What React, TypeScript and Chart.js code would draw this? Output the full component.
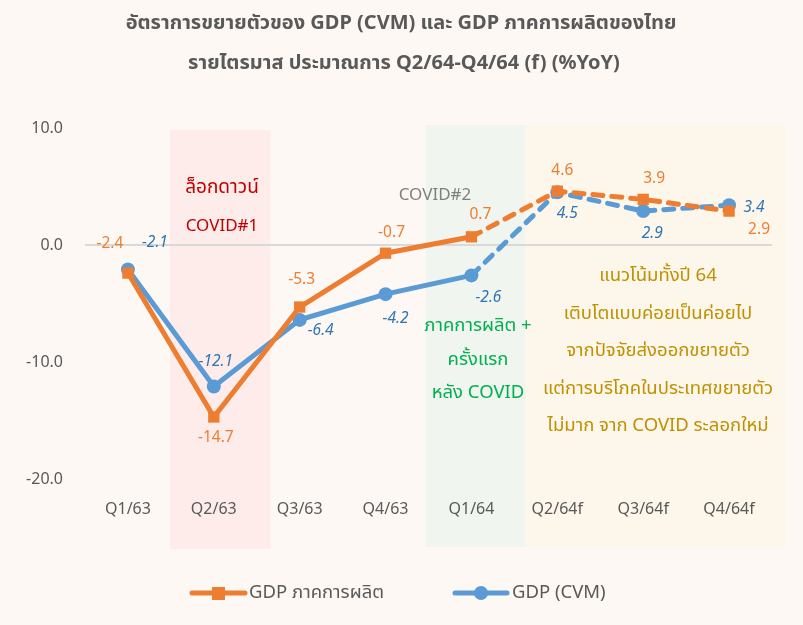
import React, { useEffect, useRef } from "react";
import { Chart, registerables } from "chart.js";

Chart.register(...registerables);

const categories = ["Q1/63", "Q2/63", "Q3/63", "Q4/63", "Q1/64", "Q2/64f", "Q3/64f", "Q4/64f"];
const manufacturing = [-2.4, -14.7, -5.3, -0.7, 0.7, 4.6, 3.9, 2.9];
const gdpCvm = [-2.1, -12.1, -6.4, -4.2, -2.6, 4.5, 2.9, 3.4];
const yTicks = [-20, -10, 0, 10];
const forecastStart = 4; // segments after this index are forecasts (dashed)

const titleLines = [
  "อัตราการขยายตัวของ GDP (CVM) และ GDP ภาคการผลิตของไทย",
  "รายไตรมาส ประมาณการ Q2/64-Q4/64 (f) (%YoY)",
];
const legendNames = ["GDP ภาคการผลิต", "GDP (CVM)"];

// label offsets (styling, px)
const orangeOffsets = [[-18, -30], [2, 21], [2, -27], [6, -21], [9, -22], [5, -21], [11, -21], [30, 19]];
const blueOffsets = [[27, -27], [2, -25], [21, 11], [10, 24], [17, 22], [10, 21], [9, 23], [25, 2]];

const FONT = "'Noto Sans', 'Noto Sans Thai', Tahoma, sans-serif";
const ORANGE = "#ed7d31";
const BLUE = "#5b9bd5";
const GRAY = "#595959";

const decorPlugin = {
  id: "decor",
  beforeDraw(chart: any) {
    const { ctx, width, height, scales } = chart;
    const x = scales.x;
    const step = x.getPixelForValue(1) - x.getPixelForValue(0);
    const px = (v: number) => x.getPixelForValue(0) + v * step;
    ctx.save();
    ctx.fillStyle = "#fdf8f4";
    ctx.fillRect(0, 0, width, height);
    ctx.fillStyle = "#fdecea";
    ctx.fillRect(px(0.49), 130, px(1.66) - px(0.49), 419);
    ctx.fillStyle = "#f0f5ef";
    ctx.fillRect(px(3.47), 125, px(4.63) - px(3.47), 422);
    ctx.fillStyle = "#fdf6ea";
    ctx.fillRect(px(4.63), 125, px(7.66) - px(4.63), 422);
    ctx.restore();
  },
  afterDraw(chart: any) {
    const { ctx } = chart;
    ctx.save();
    ctx.textAlign = "center";
    ctx.textBaseline = "middle";
    // title
    ctx.fillStyle = GRAY;
    ctx.font = `bold 20px ${FONT}`;
    ctx.fillText(titleLines[0], 401, 23);
    ctx.fillText(titleLines[1], 404, 63);

    // data labels
    const meta0 = chart.getDatasetMeta(0);
    const meta1 = chart.getDatasetMeta(1);
    ctx.font = `15.5px ${FONT}`;
    ctx.fillStyle = ORANGE;
    meta0.data.forEach((pt: any, i: number) => {
      ctx.fillText(manufacturing[i].toFixed(1), pt.x + orangeOffsets[i][0], pt.y + orangeOffsets[i][1]);
    });
    ctx.font = `italic 15.5px ${FONT}`;
    ctx.fillStyle = "#2e75b6";
    meta1.data.forEach((pt: any, i: number) => {
      ctx.fillText(gdpCvm[i].toFixed(1), pt.x + blueOffsets[i][0], pt.y + blueOffsets[i][1]);
    });

    // annotations
    ctx.font = `19px ${FONT}`;
    ctx.fillStyle = "#c00000";
    ctx.fillText("ล็อกดาวน์", 222, 188);
    ctx.font = `17px ${FONT}`;
    ctx.fillText("COVID#1", 222, 226);
    ctx.fillStyle = "#7f7f7f";
    ctx.fillText("COVID#2", 435, 195);
    ctx.font = `18.5px ${FONT}`;
    ctx.fillStyle = "#00b050";
    ctx.fillText("ภาคการผลิต +", 478, 326);
    ctx.fillText("ครั้งแรก", 478, 360);
    ctx.fillText("หลัง COVID", 478, 393);
    ctx.fillStyle = "#bf9000";
    const gold = [
      "แนวโน้มทั้งปี 64",
      "เติบโตแบบค่อยเป็นค่อยไป",
      "จากปัจจัยส่งออกขยายตัว",
      "แต่การบริโภคในประเทศขยายตัว",
      "ไม่มาก จาก COVID ระลอกใหม่",
    ];
    gold.forEach((t, i) => ctx.fillText(t, 658, 276 + i * 37.5));

    // legend
    ctx.lineCap = "round";
    ctx.lineWidth = 5;
    ctx.strokeStyle = ORANGE;
    ctx.beginPath();
    ctx.moveTo(192, 593);
    ctx.lineTo(245, 593);
    ctx.stroke();
    ctx.fillStyle = ORANGE;
    ctx.fillRect(212, 587, 13, 13);
    ctx.strokeStyle = BLUE;
    ctx.beginPath();
    ctx.moveTo(455, 593);
    ctx.lineTo(507, 593);
    ctx.stroke();
    ctx.fillStyle = BLUE;
    ctx.beginPath();
    ctx.arc(481, 593, 7, 0, Math.PI * 2);
    ctx.fill();
    ctx.fillStyle = GRAY;
    ctx.textAlign = "left";
    ctx.font = `18.5px ${FONT}`;
    ctx.fillText(legendNames[0], 249, 593);
    ctx.fillText(legendNames[1], 512, 593);
    ctx.restore();
  },
};

export default function App() {
  const ref = useRef<HTMLCanvasElement>(null);
  useEffect(() => {
    document.body.style.margin = "0";
    const dash = (c: any) => (c.p0DataIndex >= forecastStart ? [10, 9] : undefined);
    const chart = new Chart(ref.current!, {
      type: "line",
      data: {
        labels: categories,
        datasets: [
          {
            label: legendNames[0],
            data: manufacturing,
            borderColor: ORANGE,
            backgroundColor: ORANGE,
            borderWidth: 5,
            pointStyle: "rect",
            pointRadius: 8,
            pointBorderWidth: 0,
            borderCapStyle: "round",
            segment: { borderDash: dash },
          },
          {
            label: legendNames[1],
            data: gdpCvm,
            borderColor: BLUE,
            backgroundColor: BLUE,
            borderWidth: 5,
            pointStyle: "circle",
            pointRadius: 7,
            pointBorderWidth: 0,
            borderCapStyle: "round",
            segment: { borderDash: dash },
          },
        ],
      },
      options: {
        responsive: false,
        animation: false,
        layout: { padding: { top: 128, right: 31, left: 0, bottom: 0 } },
        plugins: { legend: { display: false }, tooltip: { enabled: false }, title: { display: false } },
        scales: {
          x: {
            offset: true,
            grid: { display: false, drawTicks: false },
            border: { display: false },
            ticks: { color: GRAY, font: { family: FONT, size: 16 }, padding: 21 },
            afterFit: (s: any) => { s.height = 146; },
          },
          y: {
            min: -20,
            max: 10,
            afterBuildTicks: (s: any) => { s.ticks = yTicks.map((v) => ({ value: v })); },
            grid: {
              drawTicks: false,
              color: (c: any) => (c.tick && c.tick.value === 0 ? "#d9d9d9" : "transparent"),
              lineWidth: 2,
            },
            border: { display: false },
            ticks: {
              color: GRAY,
              font: { family: FONT, size: 16 },
              padding: 22,
              callback: (v: any) => Number(v).toFixed(1),
            },
            afterFit: (s: any) => { s.width = 85; },
          },
        },
      },
      plugins: [decorPlugin],
    });
    return () => chart.destroy();
  }, []);
  return <canvas ref={ref} width={803} height={625} />;
}
